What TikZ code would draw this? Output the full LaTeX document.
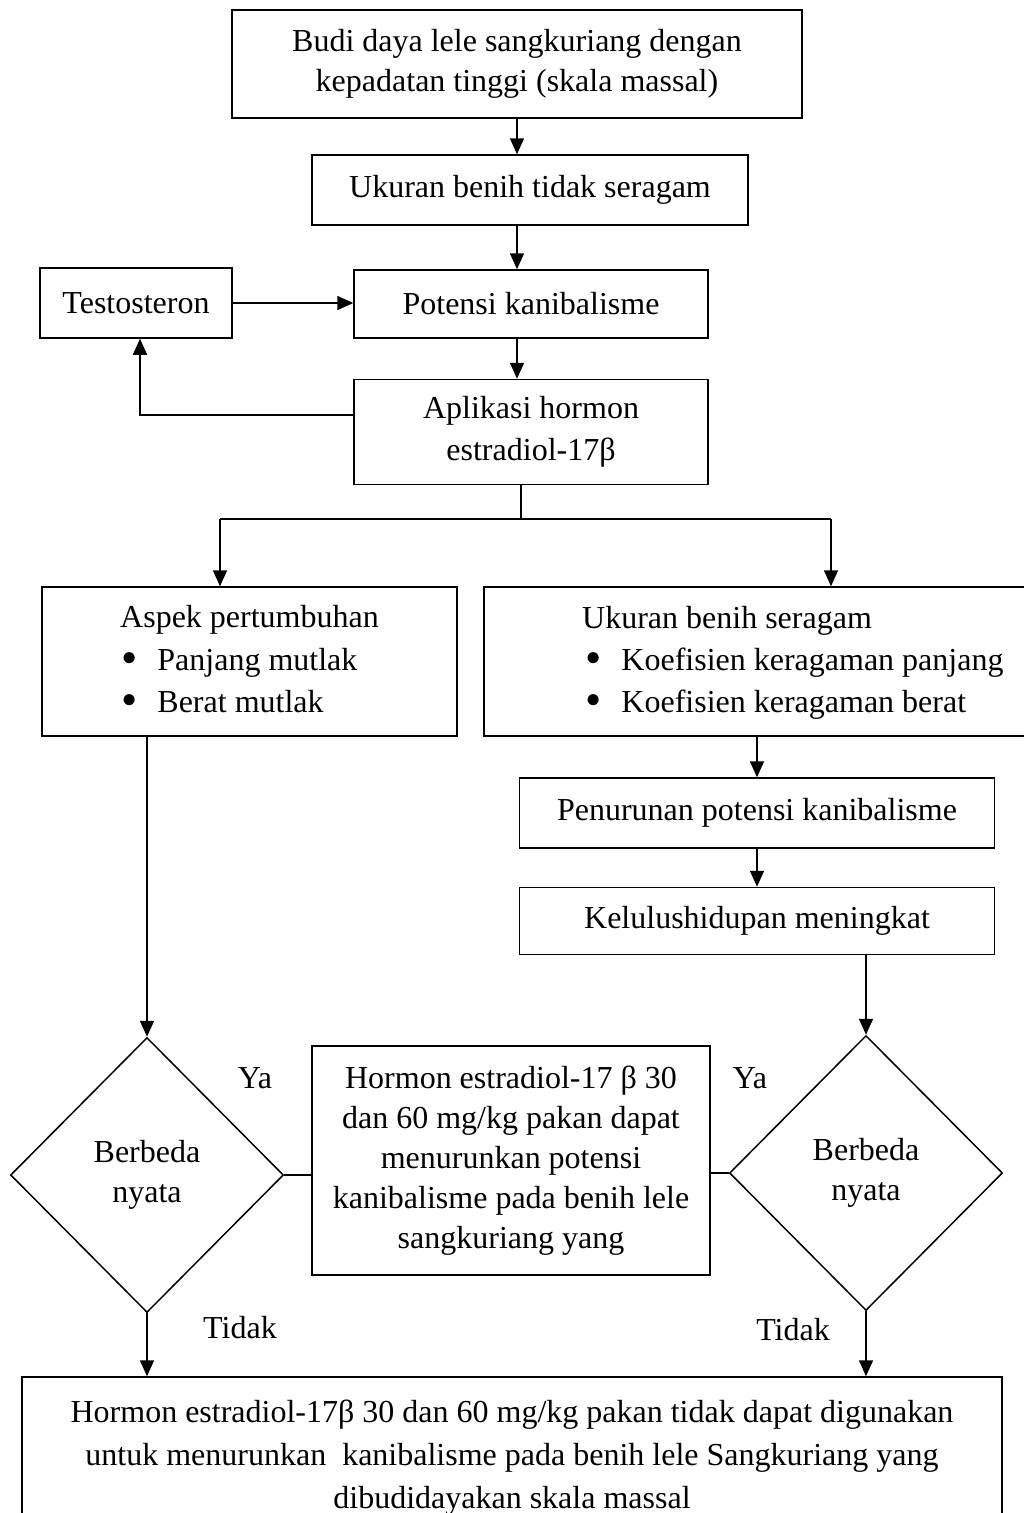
\documentclass[tikz,border=0pt]{standalone}
\usepackage{fontspec}
\setmainfont{Liberation Serif}
\usetikzlibrary{arrows.meta,shapes.geometric}
\newcommand\myfs{\fontsize{32}{40}\selectfont}
\newcommand\mybul{\raisebox{-3pt}{\scalebox{1.45}{•}}}
\begin{document}
\begin{tikzpicture}[x=1pt,y=-1pt,
  box/.style={draw, line width=1.5pt, inner sep=0pt, align=center, font=\myfs},
  dia/.style={draw, diamond, line width=1.5pt, inner sep=0pt, aspect=1, align=center, font=\myfs},
  lbl/.style={inner sep=0pt, font=\myfs},
  arr/.style={-{Triangle[length=16pt,width=14pt]}, line width=1.6pt},
  ln/.style={line width=1.5pt}]
\useasboundingbox (0,0) rectangle (1023,1513);
\fill[white] (0,0) rectangle (1023,1513);

\node[box, minimum width=570pt, minimum height=108pt] (b1) at (517,64)
  {Budi daya lele sangkuriang dengan\\kepadatan tinggi (skala massal)};
\node[box, minimum width=436pt, minimum height=70pt] (b2) at (530,190)
  {Ukuran benih tidak seragam};
\node[box, minimum width=192pt, minimum height=70pt] (testo) at (136,303)
  {Testosteron};
\node[box, minimum width=354pt, minimum height=68pt] (pot) at (531,304)
  {Potensi kanibalisme};
\node[box, minimum width=354pt, minimum height=105pt, font=\fontsize{32}{42}\selectfont] (apl) at (531,432)
  {Aplikasi hormon\\estradiol-17β};

\node[box, minimum width=415pt, minimum height=149pt] (aspek) at (249.5,661.5) {};
\node[lbl, anchor=base west] (asp1) at (120,627) {Aspek pertumbuhan};
\node[lbl, anchor=base west] (asp2) at (121,670) {\mybul\hspace{20pt}Panjang mutlak};
\node[lbl, anchor=base west] (asp3) at (121,712) {\mybul\hspace{20pt}Berat mutlak};

\node[box, minimum width=560pt, minimum height=149pt] (ukur) at (764,661.5) {};
\node[lbl, anchor=base west] (uk1) at (582,628) {Ukuran benih seragam};
\node[lbl, anchor=base west] (uk2) at (585,670) {\mybul\hspace{20pt}Koefisien keragaman panjang};
\node[lbl, anchor=base west] (uk3) at (585,712) {\mybul\hspace{20pt}Koefisien keragaman berat};

\node[box, minimum width=475pt, minimum height=70pt] (pen) at (757,813)
  {Penurunan potensi kanibalisme};
\node[box, minimum width=475pt, minimum height=67pt] (kel) at (757,921)
  {Kelulushidupan meningkat};

\node[dia, minimum width=273pt, minimum height=275pt] (ld) at (147,1175) {Berbeda\\nyata};
\node[dia, minimum width=273pt, minimum height=275pt] (rd) at (866,1173) {Berbeda\\nyata};
\node[box, minimum width=398pt, minimum height=229pt] (mid) at (511,1160.5)
  {Hormon estradiol-17 β 30\\dan 60 mg/kg pakan dapat\\menurunkan potensi\\kanibalisme pada benih lele\\sangkuriang yang};

\node[box, minimum width=980pt, minimum height=170pt] (bot) at (512,1462) {};
\node[lbl, align=center, font=\fontsize{32}{43}\selectfont] (bott) at (512,1458)
  {Hormon estradiol-17β 30 dan 60 mg/kg pakan tidak dapat digunakan\\untuk menurunkan\ \ kanibalisme pada benih lele Sangkuriang yang\\dibudidayakan skala massal};

\node[lbl] (ya1) at (255,1078) {Ya};
\node[lbl] (ya2) at (750,1078) {Ya};
\node[lbl] (td1) at (240,1328) {Tidak};
\node[lbl] (td2) at (793,1330) {Tidak};

% connectors
\draw[arr] (b1.south) -- (b1.south |- b2.north);
\draw[arr] (b1.south |- b2.south) -- (b1.south |- pot.north);
\draw[arr] (testo.east) -- (pot.west |- testo.east);
\draw[arr] (b1.south |- pot.south) -- (b1.south |- apl.north);
\coordinate (fb) at (140,415);
\draw[arr] (apl.west |- fb) -- (fb) -- (fb |- testo.south);

\coordinate (split) at (521,519);
\coordinate (sl) at (220,519);
\coordinate (sr) at (831,519);
\draw[line width=1.3pt] (apl.south -| split) -- (split);
\draw[line width=1.3pt] (sl) -- (sr);
\draw[arr] (sl) -- (sl |- aspek.north);
\draw[arr] (sr) -- (sr |- ukur.north);

\draw[arr] (pen.north |- ukur.south) -- (pen.north);
\draw[arr] (pen.south) -- (kel.north);
\draw[arr] (aspek.south -| ld.north) -- (ld.north);
\draw[arr] (kel.south -| rd.north) -- (rd.north);

\draw[ln] (ld.east) -- (mid.west |- ld.east);
\draw[ln] (mid.east |- rd.west) -- (rd.west);
\draw[arr] (ld.south) -- (ld.south |- bot.north);
\draw[arr] (rd.south) -- (rd.south |- bot.north);
\end{tikzpicture}
\end{document}
